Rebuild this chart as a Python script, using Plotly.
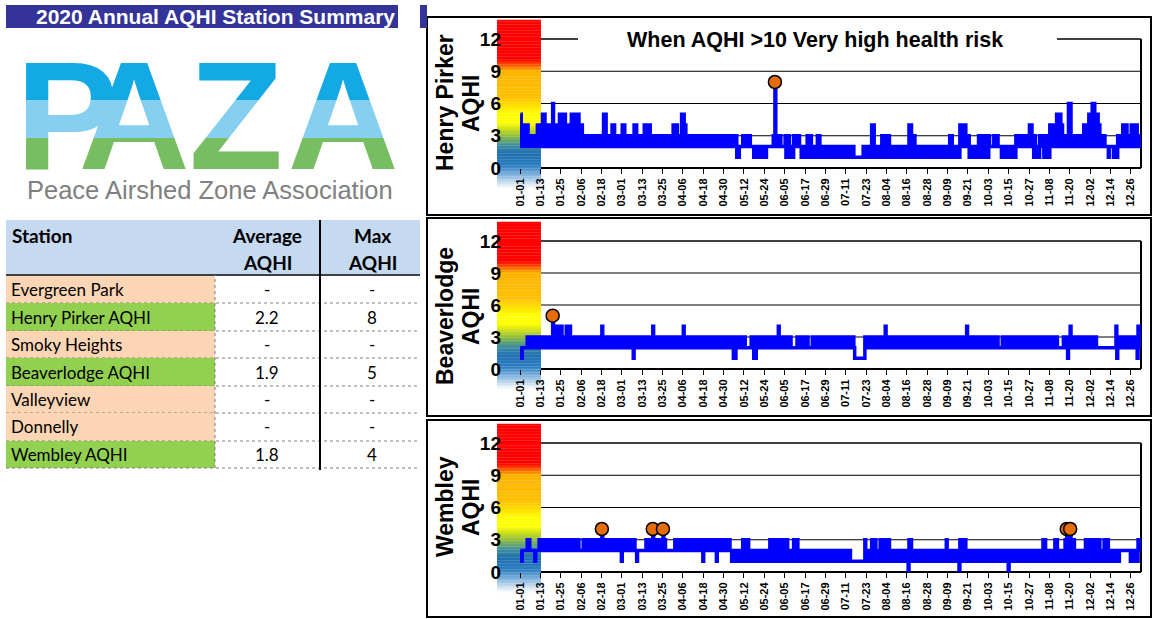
import pandas as pd
import plotly.graph_objects as go

W, H = 1154, 619
FONT = "Liberation Sans, Arial, sans-serif"
TFONT = "Lato, Liberation Sans, sans-serif"

# ---------------- summary table ----------------
summary_title = "2020 Annual AQHI Station Summary"
table_header = ["Station", "Average<br>AQHI", "Max<br>AQHI"]
stations = ["Evergreen Park", "Henry Pirker AQHI", "Smoky Heights", "Beaverlodge AQHI",
            "Valleyview", "Donnelly", "Wembley AQHI"]
avg_aqhi = ["-", "2.2", "-", "1.9", "-", "-", "1.8"]
max_aqhi = ["-", "8", "-", "5", "-", "-", "4"]
has_data = [False, True, False, True, False, False, True]

logo_letters = ["P", "A", "Z", "A"]
logo_caption = "Peace Airshed Zone Association"

# ---------------- chart labels ----------------
panel_names = [["Henry Pirker", "AQHI"], ["Beaverlodge", "AQHI"], ["Wembley", "AQHI"]]
chart_note = "When AQHI >10 Very high health risk"
y_ticks = [0, 3, 6, 9, 12]
tick_dates = list(pd.date_range("2020-01-01", "2020-12-31", freq="12D"))
tick_labels = [d.strftime("%m-%d") for d in tick_dates]

# ---------------- daily AQHI range (high / low of hourly values), 2020 ----------------
hp_high = (
    [5,4,4,3,4,3,3,3,3,3,4,4,3,5,5,4,4,3,4,6,4,4,4,5,3,5,5,4,3,4,5] +
    [5,5,5,5,4,4,3,3,3,3,3,3,3,3,3,3,3,3,5,5,3,3,3,4,4,3,3,3,3] +
    [4,4,3,3,3,3,3,4,4,3,3,3,3,4,4,3,4,3,3,3,3,3,3,3,3,3,3,3,3,3,4] +
    [4,4,3,3,5,5,4,3,3,3,3,3,3,3,3,3,3,3,3,3,3,3,3,3,3,3,3,3,3,3] +
    [3,3,3,3,3,3,3,2,2,2,3,3,3,3,3,2,2,2,2,2,2,2,2,2,2,2,2,2,3,8,3] +
    [3,3,2,2,3,3,3,2,2,3,3,3,3,2,2,2,2,3,3,3,2,2,2,3,3,2,2,2,2,2] +
    [2,2,2,2,2,2,2,2,2,2,2,2,2,2,2,1,1,1,1,1,2,2,2,2,2,4,4,2,2,2,2] +
    [3,3,2,3,3,2,2,2,2,2,2,2,2,2,2,2,4,4,3,3,2,2,2,2,2,2,2,2,2,2,2] +
    [2,2,2,2,2,2,2,2,2,3,3,2,2,2,2,4,4,4,4,3,3,2,2,2,2,2,3,3,3,2] +
    [3,3,3,2,2,3,3,3,2,2,2,2,2,2,2,2,2,2,3,3,3,3,3,2,3,3,4,4,3,3,2] +
    [2,3,3,3,2,3,3,4,4,4,4,5,5,5,4,3,3,3,6,6,3,3,3,3,3,3,3,4,4,4] +
    [5,5,6,6,5,5,4,3,3,3,2,2,2,2,2,2,2,3,3,3,4,4,4,3,3,4,4,4,4,3,3]
)
hp_low = (
    [2,2,2,2,2,2,2,2,2,2,2,2,2,2,2,2,2,2,2,2,2,2,2,2,2,2,2,2,2,2,2] +
    [2,2,2,2,2,2,2,2,2,2,2,2,2,2,2,2,2,2,2,2,2,2,2,2,2,2,2,2,2] +
    [2,2,2,2,2,2,2,2,2,2,2,2,2,2,2,2,2,2,2,2,2,2,2,2,2,2,2,2,2,2,2] +
    [2,2,2,2,2,2,2,2,2,2,2,2,2,2,2,2,2,2,2,2,2,2,2,2,2,2,2,2,2,2] +
    [2,2,2,2,2,2,1,1,2,2,2,2,2,2,2,2,1,1,1,1,1,1,1,1,2,2,2,2,2,2,2] +
    [2,2,2,2,1,1,1,1,1,2,2,2,2,1,1,1,1,1,1,1,1,1,1,1,1,1,1,1,1,1] +
    [1,1,1,1,1,1,1,1,1,1,1,1,1,1,1,1,1,1,1,1,1,1,1,1,1,1,1,1,1,1,1] +
    [1,1,1,1,1,1,1,1,1,1,1,1,1,1,1,1,1,1,1,1,1,1,1,1,1,1,1,1,1,1,1] +
    [1,1,1,1,1,1,1,1,1,1,1,1,1,1,1,2,2,2,2,2,1,1,1,1,1,1,1,1,1,1] +
    [1,1,2,2,2,2,2,2,2,1,1,1,1,1,1,1,1,1,2,2,2,2,2,2,2,2,2,2,1,1,1] +
    [1,2,2,1,1,1,1,2,2,2,2,2,2,2,2,2,2,2,2,2,2,2,2,2,2,2,2,2,2,2] +
    [2,2,2,2,2,2,2,2,2,2,2,1,2,2,1,1,1,2,2,2,2,2,2,2,2,2,2,2,2,2,2]
)
bl_high = (
    [2,2,2,2,3,3,3,3,3,3,3,3,3,3,3,3,3,3,3,5,3,4,4,3,4,3,3,4,3,4,3] +
    [3,3,3,3,3,3,3,3,3,3,3,3,3,3,3,3,3,4,3,3,3,3,3,3,3,3,3,3,3] +
    [3,3,3,3,3,3,3,3,3,3,3,3,3,3,3,3,3,3,4,3,3,3,3,3,3,3,3,3,3,3,3] +
    [3,3,3,3,3,4,3,3,3,3,3,3,3,3,3,3,3,3,3,3,3,3,3,3,3,3,3,3,3,3] +
    [3,3,3,3,3,3,3,3,3,3,3,3,2,2,2,3,3,3,3,3,3,3,2,3,3,3,3,3,3,3,3] +
    [4,3,3,3,3,2,3,3,2,2,2,3,3,3,3,2,3,3,2,2,3,3,3,3,2,3,3,3,3,3] +
    [3,3,2,3,3,3,3,3,3,2,3,3,3,3,3,1,1,1,1,1,1,3,3,3,3,2,3,3,3,3,3] +
    [3,3,4,3,3,3,3,2,3,3,3,3,3,3,2,3,3,3,3,3,2,3,3,3,3,3,3,2,3,3,3] +
    [3,3,3,3,3,2,3,3,3,3,3,3,3,2,3,3,3,3,3,4,3,3,3,3,3,2,3,3,3,3] +
    [3,3,3,3,3,3,3,3,2,2,3,3,3,3,3,3,3,3,3,3,3,3,2,3,3,3,3,3,3,3,3] +
    [3,3,3,3,3,3,3,3,3,3,3,3,2,2,2,3,3,3,3,4,3,3,3,3,3,3,3,3,3,3] +
    [3,3,3,3,3,2,2,2,2,2,2,2,2,2,2,2,4,3,3,3,3,3,3,3,3,3,3,2,3,4,4]
)
bl_low = (
    [1,2,2,2,2,2,2,2,2,2,2,2,2,2,2,2,2,2,2,2,2,2,2,2,2,2,2,2,2,2,2] +
    [2,2,2,2,2,2,2,2,2,2,2,2,2,2,2,2,2,2,2,2,2,2,2,2,2,2,2,2,2] +
    [2,2,2,2,2,2,1,2,2,2,2,2,2,2,2,2,2,2,2,2,2,2,2,2,2,2,2,2,2,2,2] +
    [2,2,2,2,2,2,2,2,2,2,2,2,2,2,2,2,2,2,2,2,2,2,2,2,2,2,2,2,2,2] +
    [2,2,2,2,1,1,2,2,2,2,2,2,2,2,2,2,1,1,2,2,2,2,2,2,2,2,2,2,2,2,2] +
    [2,2,2,2,2,2,2,2,2,2,2,2,2,2,2,2,2,2,2,2,2,2,2,2,2,2,2,2,2,2] +
    [2,2,2,2,2,2,2,2,2,2,2,2,2,2,2,1,1,1,1,1,1,2,2,2,2,2,2,2,2,2,2] +
    [2,2,2,2,2,2,2,2,2,2,2,2,2,2,2,2,2,2,2,2,2,2,2,2,2,2,2,2,2,2,2] +
    [2,2,2,2,2,2,2,2,2,2,2,2,2,2,2,2,2,2,2,2,2,2,2,2,2,2,2,2,2,2] +
    [2,2,2,2,2,2,2,2,2,2,2,2,2,2,2,2,2,2,2,2,2,2,2,2,2,2,2,2,2,2,2] +
    [2,2,2,2,2,2,2,2,2,2,2,2,2,2,2,2,2,1,2,2,2,2,2,2,2,2,2,2,2,2] +
    [2,2,2,2,2,2,2,2,2,2,2,2,2,2,2,2,1,2,2,2,2,2,2,2,2,2,2,2,1,2,2]
)
wb_high = (
    [2,2,2,2,3,3,2,2,2,2,2,3,3,3,3,3,3,3,3,3,3,3,3,3,3,3,3,3,3,3,3] +
    [3,3,3,3,2,2,3,3,3,3,3,3,3,3,3,3,3,4,3,3,3,3,3,3,3,3,3,3,3] +
    [3,3,3,3,3,3,3,3,2,2,2,2,2,2,3,3,3,3,4,3,3,3,3,3,4,3,2,2,2,2,2] +
    [3,3,3,3,3,3,3,3,3,3,3,3,3,3,3,3,3,3,3,3,3,3,3,3,2,3,3,3,3,3] +
    [3,3,3,2,2,2,2,2,2,2,3,3,3,3,2,2,2,2,2,2,2,2,2,2,2,2,3,3,3,3,3] +
    [3,3,3,3,3,3,2,2,2,3,3,3,2,2,2,2,2,2,2,2,2,2,2,2,2,2,2,2,2,2] +
    [2,2,2,2,2,2,2,2,2,2,2,2,2,1,1,1,1,1,1,1,1,3,2,2,2,3,3,3,2,2,3] +
    [3,2,3,3,3,2,2,2,2,2,2,2,2,2,2,2,3,3,2,2,2,2,2,2,2,2,2,2,2,2,2] +
    [2,2,2,2,2,2,2,3,2,2,2,2,2,2,2,3,3,3,3,2,2,2,2,2,2,2,2,2,2,2] +
    [2,2,2,2,2,2,2,2,2,2,2,2,2,2,2,2,2,2,2,2,2,2,2,2,2,2,2,2,2,2,2] +
    [2,2,2,3,3,2,2,2,2,2,3,3,2,2,2,2,3,4,3,4,3,3,2,2,2,2,2,2,3,3] +
    [3,3,2,3,3,3,3,2,2,3,3,3,2,2,2,2,2,2,2,2,2,2,2,2,2,2,2,2,2,3,3]
)
wb_low = (
    [1,2,2,2,2,2,2,2,1,2,2,2,2,2,2,2,2,2,2,2,2,2,2,2,2,2,2,2,2,2,2] +
    [2,2,2,2,2,2,2,2,2,2,2,2,2,2,2,2,2,2,2,2,2,2,2,2,2,2,2,2,1] +
    [2,2,2,2,2,2,2,2,1,2,2,2,2,2,2,2,2,2,2,2,2,2,2,2,2,2,2,2,2,2,2] +
    [2,2,2,2,2,2,2,2,2,2,2,2,2,2,2,2,1,2,2,2,2,2,2,2,1,2,2,2,2,2] +
    [2,2,2,1,1,1,1,1,1,1,1,1,1,1,1,1,1,1,1,1,1,1,1,1,1,1,1,1,1,1,1] +
    [1,1,1,1,1,1,1,1,1,1,1,1,1,1,1,1,1,1,1,1,1,1,1,1,1,1,1,1,1,1] +
    [1,1,1,1,1,1,1,1,1,1,1,1,1,1,1,1,1,1,1,1,1,1,1,1,1,1,1,1,1,1,1] +
    [1,1,1,1,1,1,1,1,1,1,1,1,1,1,1,0,1,1,1,1,1,1,1,1,1,1,1,1,1,1,1] +
    [1,1,1,1,1,1,1,1,1,1,1,1,1,1,0,1,1,1,1,1,1,1,1,1,1,1,1,1,1,1] +
    [1,1,1,1,1,1,1,1,1,1,1,1,1,0,1,1,1,1,1,1,1,1,1,1,1,1,1,1,1,1,1] +
    [1,1,1,1,1,1,1,1,1,1,1,1,1,1,1,1,1,1,1,1,1,1,1,1,1,1,1,1,1,1] +
    [1,1,1,1,1,1,1,1,1,1,1,1,1,1,1,1,1,1,2,2,2,2,2,2,1,1,1,1,1,2,2]
)

# colour scale of the AQHI risk bar: (AQHI value, colour)
risk_stops = [(-1.9, "#ffffff"), (-0.9, "#9cc3e4"), (0.2, "#2f80c2"), (1.3, "#1f6fb0"),
              (2.1, "#3e8f9e"), (3.0, "#93bd3a"), (4.2, "#ffff00"), (5.0, "#ffff00"),
              (6.6, "#ffc000"), (9.0, "#ffb400"), (9.9, "#ff2000"), (10.1, "#ff0000"),
              (13.8, "#ff0000")]

# ---------------- helpers ----------------
def fx(px):
    return px / W


def fy(py):
    return 1 - py / H


def hex2rgb(h):
    h = h.lstrip("#")
    return tuple(int(h[i:i + 2], 16) for i in (0, 2, 4))


def colour_at(v):
    for (v0, c0), (v1, c1) in zip(risk_stops[:-1], risk_stops[1:]):
        if v0 <= v <= v1:
            t = 0 if v1 == v0 else (v - v0) / (v1 - v0)
            a, b = hex2rgb(c0), hex2rgb(c1)
            return "rgb(%d,%d,%d)" % tuple(round(a[k] + (b[k] - a[k]) * t) for k in range(3))
    return risk_stops[-1][1]


def note(text, x, y, size, color="black", family=FONT, xanchor="center", angle=0):
    return dict(text=text, xref="paper", yref="paper", x=fx(x), y=fy(y), xanchor=xanchor,
                yanchor="middle", showarrow=False, textangle=angle,
                font=dict(family=family, size=size, color=color))


base = pd.Timestamp("2020-01-01")
PLOT_L, PLOT_R, GRID_L, BAR_L = 520, 1141, 541, 497
panels = [
    dict(name=panel_names[0], hi=hp_high, lo=hp_low, top=39, bot=168, frame=(17, 215), label_y=103),
    dict(name=panel_names[1], hi=bl_high, lo=bl_low, top=241, bot=369, frame=(218, 416), label_y=316),
    dict(name=panel_names[2], hi=wb_high, lo=wb_low, top=443, bot=572, frame=(420, 617), label_y=507),
]

fig = go.Figure()
shapes, annos = [], []
layout = dict(template="none", width=W, height=H,
              margin=dict(l=0, r=0, t=0, b=0, pad=0, autoexpand=False),
              paper_bgcolor="white", plot_bgcolor="rgba(0,0,0,0)", showlegend=False)

for i, p in enumerate(panels):
    k = "" if i == 0 else str(i + 1)
    xs, ys = [], []
    for d, (h, l) in enumerate(zip(p["hi"], p["lo"])):
        xs += [base + pd.Timedelta(hours=24 * d + 6), base + pd.Timedelta(hours=24 * d + 18)]
        ys += [h, l]
    fig.add_trace(go.Scatter(x=xs, y=ys, mode="lines", xaxis="x" + k, yaxis="y" + k,
                             line=dict(color="#0000ff", width=3.5, shape="hv"), hoverinfo="skip"))
    mx = max(p["hi"])
    mdays = [d for d, h in enumerate(p["hi"]) if h == mx]
    fig.add_trace(go.Scatter(x=[xs[2 * d] for d in mdays], y=[p["hi"][d] for d in mdays],
                             mode="markers", xaxis="x" + k, yaxis="y" + k,
                             marker=dict(size=13, color="#e46c0a", line=dict(color="black", width=1.5))))
    top, bot = p["top"], p["bot"]
    layout["xaxis" + k] = dict(domain=[fx(PLOT_L), fx(PLOT_R)], anchor="y" + k, type="date",
                               range=[base, base + pd.Timedelta(days=366)],
                               tickvals=tick_dates, ticktext=tick_labels, tickangle=-90,
                               tickfont=dict(family=FONT, size=11, color="black", weight="bold"),
                               ticks="outside", ticklen=5, tickcolor="black", tickwidth=1,
                               showgrid=False, zeroline=False, showline=False, fixedrange=True,
                               automargin=False)
    layout["yaxis" + k] = dict(domain=[fy(bot), fy(top)], anchor="x" + k, range=[0, 12],
                               tickvals=y_ticks, ticks="", showgrid=False, zeroline=False,
                               showline=False, fixedrange=True, ticklabelstandoff=18, automargin=False,
                               tickfont=dict(family=FONT, size=19, color="black", weight="bold"))

    ppu = (bot - top) / 12.0

    def vpx(v):
        return bot - v * ppu

    # risk colour bar
    vt, vb, n = risk_stops[-1][0], risk_stops[0][0], 110
    for j in range(n):
        v0 = vt - (vt - vb) * j / n
        v1 = vt - (vt - vb) * (j + 1) / n
        shapes.append(dict(type="rect", xref="paper", yref="paper", x0=fx(BAR_L), x1=fx(GRID_L),
                           y0=fy(vpx(v1)) - 0.0005, y1=fy(vpx(v0)), fillcolor=colour_at((v0 + v1) / 2),
                           line=dict(width=0), layer="below"))
    # grid lines
    for v in y_ticks[1:-1]:
        shapes.append(dict(type="line", xref="paper", yref="paper", x0=fx(GRID_L), x1=fx(PLOT_R),
                           y0=fy(vpx(v)), y1=fy(vpx(v)), line=dict(color="black", width=1), layer="below"))
    # plot border (top, right, bottom)
    segs = [(GRID_L, 578), (1057, PLOT_R)] if i == 0 else [(GRID_L, PLOT_R)]
    for a, b in segs:
        shapes.append(dict(type="line", xref="paper", yref="paper", x0=fx(a), x1=fx(b),
                           y0=fy(top), y1=fy(top), line=dict(color="black", width=1.5), layer="below"))
    shapes.append(dict(type="line", xref="paper", yref="paper", x0=fx(PLOT_R), x1=fx(PLOT_R),
                       y0=fy(top), y1=fy(bot), line=dict(color="black", width=2), layer="below"))
    shapes.append(dict(type="line", xref="paper", yref="paper", x0=fx(GRID_L), x1=fx(PLOT_R),
                       y0=fy(bot), y1=fy(bot), line=dict(color="black", width=2), layer="below"))
    # panel frame
    f0, f1 = p["frame"]
    shapes.append(dict(type="rect", xref="paper", yref="paper", x0=fx(427), x1=fx(1151),
                       y0=fy(f1), y1=fy(f0), line=dict(color="black", width=2), layer="below"))
    # axis title, two lines
    annos.append(note("<b>%s</b>" % p["name"][0], 445, p["label_y"], 23, angle=-90))
    annos.append(note("<b>%s</b>" % p["name"][1], 471, p["label_y"], 23, angle=-90))

annos.append(note("<b>%s</b>" % chart_note, 815, 40, 21.5))

# ---------------- left side: title bar ----------------
for a, b in [(6, 398), (420, 427)]:
    shapes.append(dict(type="rect", xref="paper", yref="paper", x0=fx(a), x1=fx(b), y0=fy(28), y1=fy(5),
                       fillcolor="#333399", line=dict(width=0), layer="below"))
annos.append(note("<b>%s</b>" % summary_title, 215, 16.5, 21, color="white"))

# ---------------- logo (letters clipped into a sky band and a ground band) ----------------
logo_x = [67, 134, 236, 343]
band_edges = [30, 100, 138, 190]
band_cols = ["#13a9e5", "#86cff0", "#77bd62"]
for b, col in enumerate(band_cols):
    ax_n = str(4 + b)
    y0, y1 = band_edges[b], band_edges[b + 1]
    fig.add_trace(go.Scatter(x=logo_x, y=[130] * 4, text=logo_letters, mode="text",
                             textposition="middle center", xaxis="x" + ax_n, yaxis="y" + ax_n,
                             textfont=dict(family=FONT, size=154, color=col, weight="bold"),
                             hoverinfo="skip", cliponaxis=True))
    layout["xaxis" + ax_n] = dict(domain=[0, 0.4], range=[0, 0.4 * W], visible=False,
                                  anchor="y" + ax_n, fixedrange=True)
    layout["yaxis" + ax_n] = dict(domain=[fy(y1), fy(y0)], range=[y1, y0], visible=False,
                                  anchor="x" + ax_n, fixedrange=True)
annos.append(note(logo_caption, 210, 190, 25.5, color="#808080"))

# ---------------- summary table ----------------
row_edges = [275, 303, 331, 358, 386, 413, 441, 468]
shapes.append(dict(type="rect", xref="paper", yref="paper", x0=fx(6), x1=fx(420), y0=fy(275), y1=fy(220),
                   fillcolor="#c5d9f1", line=dict(width=0), layer="below"))
for r, name in enumerate(stations):
    ya, yb = row_edges[r], row_edges[r + 1]
    shapes.append(dict(type="rect", xref="paper", yref="paper", x0=fx(6), x1=fx(215), y0=fy(yb), y1=fy(ya),
                       fillcolor="#92d050" if has_data[r] else "#fcd5b4", line=dict(width=0), layer="below"))
    yc = (ya + yb) / 2
    annos.append(note(name, 9, yc, 17, family=TFONT, xanchor="left"))
    annos.append(note(avg_aqhi[r], 267, yc, 17, family=TFONT))
    annos.append(note(max_aqhi[r], 372, yc, 17, family=TFONT))
    shapes.append(dict(type="line", xref="paper", yref="paper", x0=fx(6), x1=fx(420), y0=fy(yb), y1=fy(yb),
                       line=dict(color="#7f7f7f", width=1, dash="dot"), layer="below"))
shapes.append(dict(type="line", xref="paper", yref="paper", x0=fx(6), x1=fx(420), y0=fy(275), y1=fy(275),
                   line=dict(color="#404040", width=2), layer="below"))
shapes.append(dict(type="line", xref="paper", yref="paper", x0=fx(215), x1=fx(215), y0=fy(468), y1=fy(275),
                   line=dict(color="#7f7f7f", width=1, dash="dot"), layer="below"))
shapes.append(dict(type="line", xref="paper", yref="paper", x0=fx(320), x1=fx(320), y0=fy(470), y1=fy(220),
                   line=dict(color="black", width=2), layer="below"))
hdr_x = [(10, "left"), (267, "center"), (372, "center")]
for (hx, anc), txt in zip(hdr_x, table_header):
    for li, part in enumerate(txt.split("<br>")):
        annos.append(note("<b>%s</b>" % part, hx, 236 + 27 * li, 19, family=TFONT, xanchor=anc))

layout["shapes"] = shapes
layout["annotations"] = annos
fig.update_layout(**layout)
fig.write_html("out.html", config={"displayModeBar": False, "staticPlot": True},
               post_script="document.body.style.margin='0px';")
